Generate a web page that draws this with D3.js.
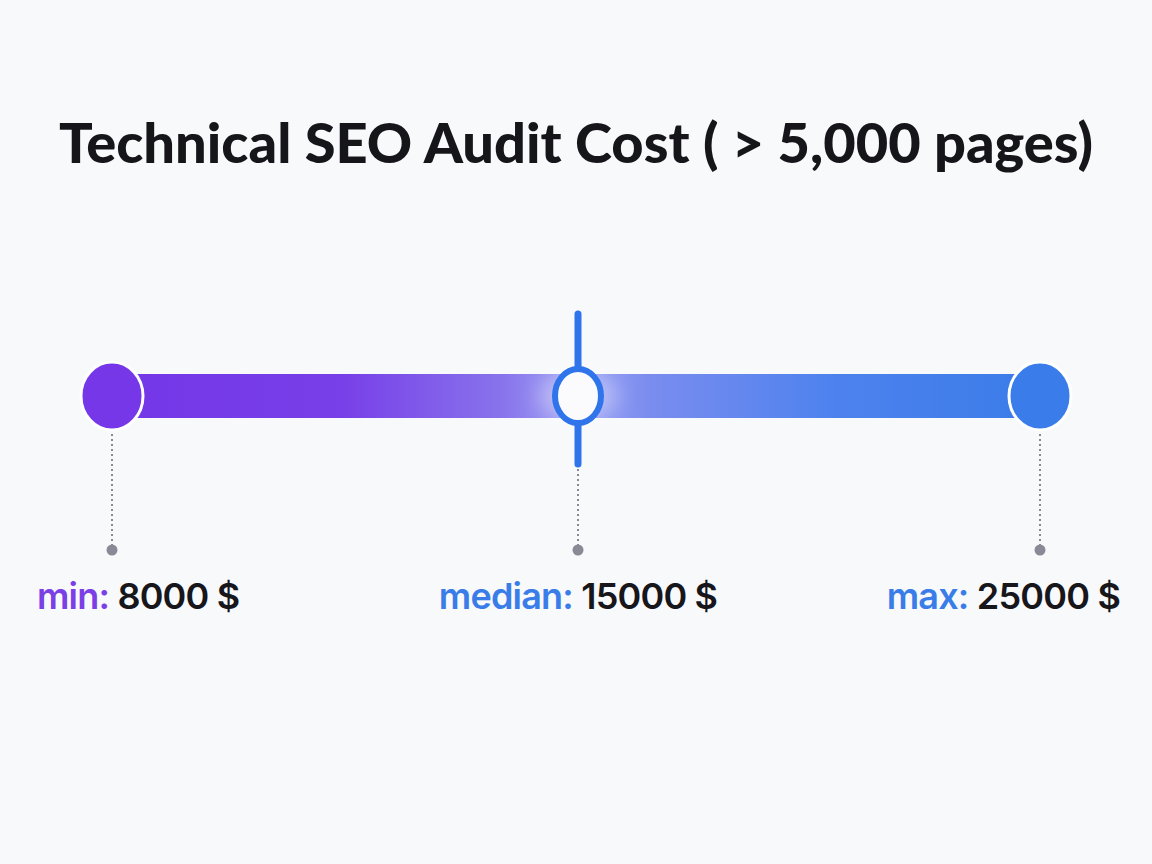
<!DOCTYPE html>
<html>
<head>
<meta charset="UTF-8">
<title>Technical SEO Audit Cost</title>
<script src="https://d3js.org/d3.v7.min.js"></script>
<style>
  body { margin: 0; background: #f8f9fb; }
  svg { display: block; background: #f8f9fb; }
</style>
</head>
<body>
<svg id="chart"></svg>
<script>
// data
const title = "Technical SEO Audit Cost ( > 5,000 pages)";
const statNames = ["min", "median", "max"];
const statValues = [8000, 15000, 25000];
const unit = "$";

const W = 1152, H = 864;
const left = 112, right = 1040;
const barY = 396, barH = 44;
const labelY = 609;

const svg = d3.select("#chart").attr("width", W).attr("height", H);

// median sits in the middle of the bar, like the picture
const x = d3.scaleLinear()
  .domain(statValues)
  .range([left, 578, right]);

const defs = svg.append("defs");
const grad = defs.append("linearGradient")
  .attr("id", "barGrad")
  .attr("x1", "0%").attr("x2", "100%");
[[0, "#7436e8"], [0.25, "#7840e8"], [0.42, "#8873ec"], [0.5, "#9ea3f3"],
 [0.58, "#7a8cef"], [0.78, "#4d82ee"], [1, "#3a7ce9"]]
  .forEach(s => grad.append("stop").attr("offset", s[0]).attr("stop-color", s[1]));

const blur = defs.append("filter").attr("id", "glow")
  .attr("x", "-100%").attr("y", "-100%").attr("width", "300%").attr("height", "300%");
blur.append("feGaussianBlur").attr("stdDeviation", 10);

// title, sized to the width it has in the picture
const t = svg.append("text")
  .attr("x", W / 2).attr("y", 163)
  .attr("text-anchor", "middle")
  .attr("font-family", "Lato, Inter, sans-serif")
  .attr("font-weight", 900)
  .attr("font-size", 60)
  .attr("fill", "#15151a")
  .text(title);
const tw = t.node().getComputedTextLength();
t.attr("font-size", Math.min(64, 60 * 1034 / tw));

// bar
svg.append("rect")
  .attr("x", x(statValues[0]))
  .attr("y", barY - barH / 2)
  .attr("width", x(statValues[2]) - x(statValues[0]))
  .attr("height", barH)
  .attr("fill", "url(#barGrad)");

// soft glow around median
svg.append("ellipse")
  .attr("cx", x(statValues[1])).attr("cy", barY)
  .attr("rx", 40).attr("ry", 24)
  .attr("fill", "#ffffff").attr("opacity", 0.35)
  .attr("filter", "url(#glow)");

// dotted leaders
statValues.forEach(v => {
  svg.append("line")
    .attr("x1", x(v)).attr("x2", x(v))
    .attr("y1", 434).attr("y2", 546)
    .attr("stroke", "#8a8a96")
    .attr("stroke-width", 2)
    .attr("stroke-dasharray", "2,3");
  svg.append("circle")
    .attr("cx", x(v)).attr("cy", 550).attr("r", 5.5)
    .attr("fill", "#8a8a96");
});

// end caps
const endColors = ["#7537e8", "#3a7ce9"];
[statValues[0], statValues[2]].forEach((v, i) => {
  svg.append("ellipse")
    .attr("cx", x(v)).attr("cy", barY)
    .attr("rx", 31).attr("ry", 34)
    .attr("fill", endColors[i])
    .attr("stroke", "#ffffff")
    .attr("stroke-width", 3);
});

// median marker
const mx = x(statValues[1]);
svg.append("line")
  .attr("x1", mx).attr("x2", mx)
  .attr("y1", 314).attr("y2", 464)
  .attr("stroke", "#2f74ea")
  .attr("stroke-width", 7)
  .attr("stroke-linecap", "round");
svg.append("ellipse")
  .attr("cx", mx).attr("cy", barY)
  .attr("rx", 23).attr("ry", 27)
  .attr("fill", "#fbfbfd")
  .attr("stroke", "#2f74ea")
  .attr("stroke-width", 6);

// labels
const labelColors = ["#7b3fe6", "#3a7de8", "#3a7de8"];
statValues.forEach((v, i) => {
  const lab = svg.append("text")
    .attr("x", x(v)).attr("y", labelY)
    .attr("text-anchor", "middle")
    .attr("font-family", "Inter, 'Open Sans', sans-serif")
    .attr("font-weight", 600)
    .attr("font-size", 36)
    .attr("letter-spacing", -0.8);
  lab.append("tspan").attr("fill", labelColors[i]).text(statNames[i] + ": ");
  lab.append("tspan").attr("fill", "#16161b").text(v + " " + unit);
  // keep labels inside the page edges
  const bb = lab.node().getBBox();
  let dx = 0;
  if (bb.x < 37) dx = 37 - bb.x;
  if (bb.x + bb.width > 1120) dx = 1120 - (bb.x + bb.width);
  lab.attr("x", x(v) + dx);
});
</script>
</body>
</html>
